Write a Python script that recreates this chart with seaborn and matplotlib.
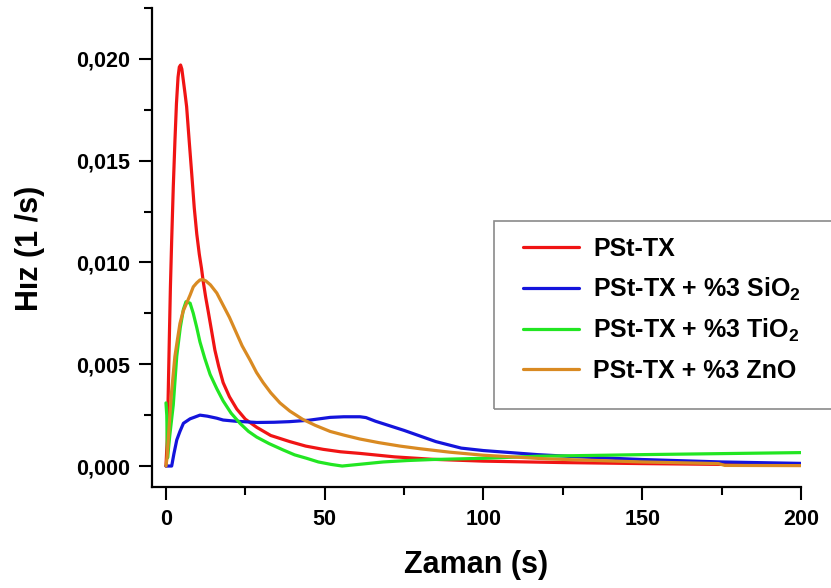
import numpy as np
import pandas as pd
import matplotlib
matplotlib.use("Agg")
import matplotlib.pyplot as plt
import matplotlib.ticker as mticker
from matplotlib.patches import Rectangle
import seaborn as sns

# series labels and colours
labels = ["PSt-TX",
          r"PSt-TX + %3 SiO$_\mathbf{2}$",
          r"PSt-TX + %3 TiO$_\mathbf{2}$",
          "PSt-TX + %3 ZnO"]
colors = ["#f01414", "#1414dc", "#22e622", "#d98a22"]

# values: time (s) and rate (1/s)
t_pst = [0, 0.4, 0.7, 1.05, 1.4, 1.8, 2.3, 2.83, 3.3, 3.8, 4.2, 4.6, 5.0, 5.5,
         6.0, 6.5, 7.3, 8.1, 8.9, 9.7, 10.5, 11.2, 11.7, 12.5, 13.3, 14.3,
         15.4, 16.6, 18, 20, 22.3, 25, 28.6, 33, 39, 44, 49.5, 55, 61.1, 72,
         84, 100, 125, 150, 175, 200]
y_pst = [0, 0.0013, 0.0035, 0.0062, 0.0088, 0.0111, 0.0137, 0.0160, 0.0178,
         0.0191, 0.0196, 0.0197, 0.0195, 0.0189, 0.0183, 0.01766, 0.0160,
         0.01438, 0.0127, 0.0114, 0.0104, 0.0097, 0.0091, 0.0083, 0.0076,
         0.0067, 0.0057, 0.0049, 0.0041, 0.0034, 0.0028, 0.0023, 0.0019,
         0.0015, 0.0012, 0.00098, 0.00082, 0.0007, 0.00062, 0.00045, 0.00033,
         0.00024, 0.00017, 0.00012, 0.00008, 0.00005]

t_sio2 = [0, 1.8, 2.5, 3.4, 4.4, 5.5, 7.6, 9, 10.7, 13, 16, 18, 22, 28.6, 34,
          38.9, 45, 51.7, 56, 61.1, 63, 66, 75, 85, 91, 93, 100, 117, 130,
          150, 175, 200]
y_sio2 = [0, 0, 0.0006, 0.00128, 0.0017, 0.0021, 0.00232, 0.0024, 0.0025,
          0.00245, 0.00235, 0.00226, 0.0022, 0.00214, 0.00215, 0.00218,
          0.00225, 0.00239, 0.00242, 0.00242, 0.00238, 0.0022, 0.00175, 0.0012,
          0.00096, 0.00088, 0.00076, 0.00056, 0.00045, 0.00032, 0.0002,
          0.00013]

t_tio2 = [0, 0.25, 0.5, 1.2, 2.3, 3.4, 4.5, 5.5, 6.3, 7.6, 8.6, 9.7, 10.7,
          12.2, 13.9, 16, 18, 20.5, 23.3, 26, 28.6, 32.5, 36.9, 40.5, 44.3, 48,
          52, 55.5, 62, 68.4, 76, 84, 100, 117, 150, 200]
y_tio2 = [0.0031, 0.0025, 0.0004, 0.0015, 0.0030, 0.0054, 0.0068, 0.0077,
          0.00807, 0.0080, 0.0075, 0.0068, 0.0061, 0.0053, 0.0045, 0.0038,
          0.0032, 0.0026, 0.0021, 0.0017, 0.00142, 0.0011, 0.00079, 0.00055,
          0.00038, 0.0002, 0.00008, 0.0, 0.0001, 0.0002, 0.00027, 0.00032,
          0.00038, 0.00048, 0.00056, 0.00066]

t_zno = [0, 0.4, 1.05, 1.8, 2.8, 3.6, 4.4, 5.4, 6.5, 7.6, 8.6, 9.7, 10.7, 11.5,
         12.5, 14, 16, 18, 20, 22, 24, 26.5, 28.5, 30.6, 33, 35.9, 39, 43, 47,
         51.7, 56, 61, 67, 73.7, 80, 89.4, 100, 120, 150, 174, 176, 200]
y_zno = [0, 0.0005, 0.0021, 0.0037, 0.00537, 0.0062, 0.0070, 0.0076, 0.0080,
         0.0084, 0.0088, 0.0090, 0.00914, 0.00916, 0.0091, 0.0089, 0.0085,
         0.0079, 0.0073, 0.0066, 0.0059, 0.0052, 0.0046, 0.0041, 0.0036,
         0.0031, 0.0027, 0.0023, 0.0020, 0.0017, 0.00152, 0.00133, 0.00115,
         0.00098, 0.00085, 0.00068, 0.00053, 0.00035, 0.0002, 0.00012,
         0.00003, 0.00002]

frames = []
for lab, t, y in zip(labels, [t_pst, t_sio2, t_tio2, t_zno],
                     [y_pst, y_sio2, y_tio2, y_zno]):
    frames.append(pd.DataFrame({"t": t, "rate": y, "seri": lab}))
df = pd.concat(frames, ignore_index=True)

sns.set_theme(style="ticks")
plt.rcParams["font.family"] = ["Liberation Sans", "DejaVu Sans"]
plt.rcParams["font.weight"] = "bold"
plt.rcParams["mathtext.fontset"] = "custom"
plt.rcParams["mathtext.bf"] = "Liberation Sans:bold"
plt.rcParams["mathtext.rm"] = "Liberation Sans:bold"
for key in ["text.color", "axes.labelcolor", "xtick.color", "ytick.color"]:
    plt.rcParams[key] = "black"

fig = plt.figure(figsize=(8.31, 5.88), dpi=100)
W, H = 831, 588
ax = fig.add_axes([152 / W, 1 - 487 / H, (801 - 152) / W, (487 - 8) / H])

sns.lineplot(data=df, x="t", y="rate", hue="seri", palette=colors,
             estimator=None, sort=False, linewidth=2.3, ax=ax, legend=False,
             solid_joinstyle="round", solid_capstyle="round")

ax.set_xlim(-4.4, 200)
ax.set_ylim(-0.00103, 0.0225)
ax.xaxis.set_major_locator(mticker.MultipleLocator(50))
ax.xaxis.set_minor_locator(mticker.MultipleLocator(25))
ax.yaxis.set_major_locator(mticker.MultipleLocator(0.005))
ax.yaxis.set_minor_locator(mticker.MultipleLocator(0.0025))
ax.yaxis.set_major_formatter(
    mticker.FuncFormatter(lambda v, p: f"{v:.3f}".replace(".", ",")))
ax.xaxis.set_major_formatter(mticker.FuncFormatter(lambda v, p: f"{v:.0f}"))

sns.despine(ax=ax)
for s in ["left", "bottom"]:
    ax.spines[s].set_linewidth(1.6)
    ax.spines[s].set_color("black")
ax.tick_params(which="major", length=9.5, width=1.5, color="black",
               labelsize=15.5, pad=6, direction="out")
ax.tick_params(which="minor", length=5.5, width=1.5, color="black",
               direction="out")
for lbl in ax.get_xticklabels() + ax.get_yticklabels():
    lbl.set_fontweight("bold")

ax.set_xlabel("Zaman (s)", fontsize=22, fontweight="bold", labelpad=15)
ax.set_ylabel("Hız (1 /s)", fontsize=22, fontweight="bold")
ax.yaxis.set_label_coords(45 / W, 1 - 248 / H, transform=fig.transFigure)

# legend frame (runs off the right edge like the original)
fig.patches.append(Rectangle((494 / W, 1 - 409 / H), 0.5, (409 - 221) / H,
                             transform=fig.transFigure, fill=False,
                             edgecolor="#8a8a8a", linewidth=1.2))
handles = [plt.Line2D([], [], color=c, lw=2.3) for c in colors]
leg = fig.legend(handles, labels, loc="upper left",
                 bbox_to_anchor=(523 / W, 1 - 237 / H),
                 bbox_transform=fig.transFigure, frameon=False,
                 borderpad=0, borderaxespad=0, handlelength=2.25,
                 handletextpad=0.55, labelspacing=0.58,
                 prop={"size": 18, "weight": "bold"})

fig.savefig("out.png", dpi=100)
